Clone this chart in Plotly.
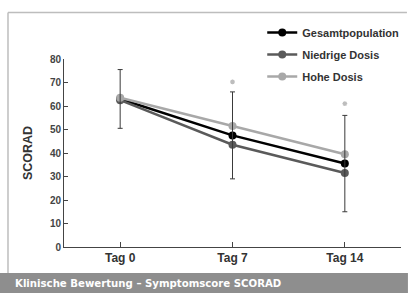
import plotly.graph_objects as go

# ---- data ----
categories = ["Tag 0", "Tag 7", "Tag 14"]
x_pos = [0, 1, 2]
gesamt = [63, 47.5, 35.5]
niedrige = [62.5, 43.5, 31.5]
hohe = [63.5, 51.5, 39.5]
gesamt_sd = [12.5, 18.5, 20.5]
star_x = [1, 2]
star_y = [70.3, 61]
y_ticks = [0, 10, 20, 30, 40, 50, 60, 70, 80]
title_text = "Klinische Bewertung – Symptomscore SCORAD"

C_BLACK = "#000000"
C_DARK = "#5a5a5a"
C_LIGHT = "#a8a8a8"

fig = go.Figure()

def add_series(name, vals, color):
    fig.add_trace(go.Scatter(
        x=x_pos, y=vals, name=name, mode="lines+markers", legendgroup=name,
        line=dict(color=color, width=2.5),
        marker=dict(color=color, size=8),
    ))

add_series("Gesamtpopulation", gesamt, C_BLACK)
add_series("Niedrige Dosis", niedrige, C_DARK)
add_series("Hohe Dosis", hohe, C_LIGHT)

# error bars on top
fig.add_trace(go.Scatter(
    x=x_pos, y=gesamt, mode="markers", showlegend=False, hoverinfo="skip",
    marker=dict(color="rgba(0,0,0,0)", size=1),
    error_y=dict(type="data", array=gesamt_sd, color="#3a3a3a", thickness=1, width=2.5),
))

# significance stars
fig.add_trace(go.Scatter(
    x=star_x, y=star_y, mode="markers", showlegend=False, hoverinfo="skip",
    marker=dict(symbol="asterisk-open", size=4, color="#bdbdbd",
                line=dict(color="#bdbdbd", width=1.3)),
))

L, R, T, B = 64, 5, 59, 46
W, H = 409, 293
pw, ph = W - L - R, H - T - B

def px(x):
    return (x - L) / pw

def py(y):
    return (H - B - y) / ph

shapes = [
    # frame
    dict(type="line", xref="paper", yref="paper", x0=px(7.5), x1=px(7.5), y0=py(12.5), y1=py(273),
         line=dict(color="#bdbdbd", width=1.5)),
    dict(type="line", xref="paper", yref="paper", x0=px(7.5), x1=px(410), y0=py(12.5), y1=py(12.5),
         line=dict(color="#bdbdbd", width=1.5)),
    # banner
    dict(type="rect", xref="paper", yref="paper", x0=px(-2), x1=px(411), y0=py(273), y1=py(295),
         fillcolor="#8e8e8e", line=dict(width=0), layer="below"),
]

fig.update_layout(
    width=W, height=H,
    margin=dict(l=L, r=R, t=T, b=B),
    paper_bgcolor="white", plot_bgcolor="white",
    font=dict(family="Liberation Sans, Arial, sans-serif", color="#333333"),
    shapes=shapes,
    showlegend=True,
    legend=dict(
        x=px(264), y=py(18), xanchor="left", yanchor="top",
        bgcolor="rgba(0,0,0,0)",
        font=dict(size=11, weight="bold", color="#333333"),
        tracegroupgap=3,
    ),
    annotations=[dict(
        text=title_text, xref="paper", yref="paper", x=px(13), y=py(283.5),
        xanchor="left", yanchor="middle", showarrow=False,
        font=dict(family="DejaVu Sans Condensed, Liberation Sans Narrow, sans-serif", size=11.3,
                  color="white", weight="bold"),
    )],
    xaxis=dict(
        range=[-0.5, 2.5], tickmode="array",
        tickvals=x_pos + [2.5], ticktext=categories + [""],
        showline=True, linecolor="#444444", linewidth=1,
        ticks="inside", ticklen=5, tickcolor="#444444", tickwidth=1,
        showgrid=False, zeroline=False,
        tickfont=dict(size=12, weight="bold", color="#333333"),
    ),
    yaxis=dict(
        range=[0, 80], tickmode="array", tickvals=y_ticks,
        showline=True, linecolor="#444444", linewidth=1,
        ticks="inside", ticklen=4, tickcolor="#444444", tickwidth=1,
        showgrid=False, zeroline=False,
        tickfont=dict(size=10, weight="bold", color="#444444"),
        title=dict(text="SCORAD", font=dict(size=12.5, weight="bold", color="#333333"), standoff=14),
        automargin=False,
    ),
)

fig.write_html(
    "out.html",
    config={"displayModeBar": False},
    post_script="document.body.style.margin='0';document.body.style.overflow='hidden';",
)
